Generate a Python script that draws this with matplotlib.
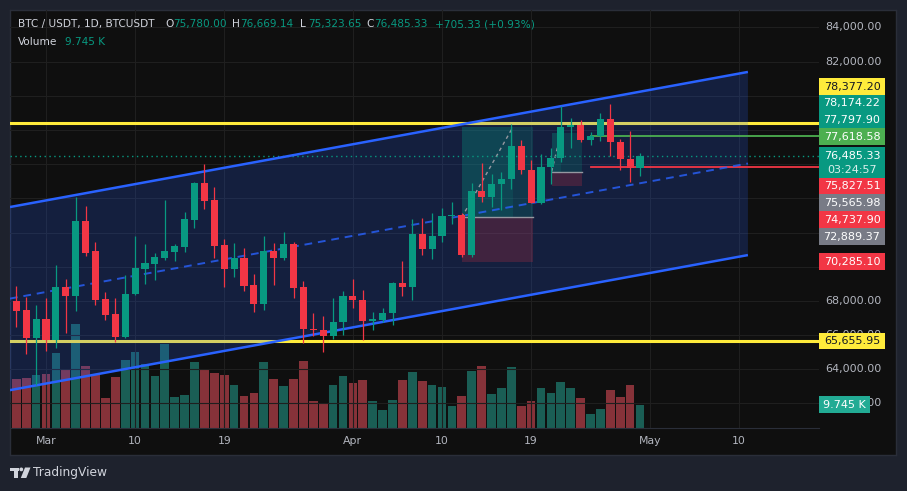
import matplotlib
matplotlib.use('Agg')
import matplotlib.pyplot as plt
from matplotlib.patches import Rectangle, Polygon, Circle
import pandas as pd

W, H = 907, 491

# ---------------- data ----------------
dates = pd.date_range('2025-02-26', periods=64, freq='D')
opens = [67990, 67470, 65850, 66940, 65710, 68810, 68300, 72670, 70920, 68110,
         67230, 65900, 68390, 69890, 70180, 70530, 70880, 71170, 72750, 74900,
         73880, 71260, 69880, 70530, 68910, 67840, 70920, 70530, 71330, 68790,
         66380, 66300, 65950, 66750, 68290, 68080, 66820, 66900, 67270, 69050,
         68830, 71910, 71030, 71790, 72950, 73020, 70680, 74430, 74080, 74830,
         75130, 77060, 75680, 73720, 75810, 76350, 78160, 78290, 77410, 77630,
         78640, 77310, 76320, 75780.00]
highs = [68870, 68240, 67760, 68190, 70100, 69280, 74080, 73550, 71440, 68520,
         68170, 69510, 71800, 71330, 70800, 73900, 71330, 73200, 74950, 76000,
         74660, 71620, 71390, 71090, 69570, 71800, 71390, 72030, 71440, 69160,
         67290, 67120, 68170, 68580, 69280, 68640, 67350, 67580, 69110, 70330,
         72790, 72850, 73140, 73430, 73780, 73140, 74900, 76060, 75420, 75540,
         78340, 77410, 76240, 76590, 76940, 79400, 78700, 78580, 77880, 78990,
         79520, 77470, 77940, 76669.14]
lows = [66490, 64890, 63080, 65090, 65260, 66140, 67430, 70640, 67780, 66900,
        65610, 65850, 68330, 69000, 69240, 70410, 70350, 70880, 72280, 73390,
        70530, 68830, 69410, 68600, 67370, 67490, 68950, 70410, 68190, 65550,
        65960, 65030, 65770, 66000, 67600, 65710, 66300, 66770, 66610, 68300,
        68050, 70700, 70450, 71440, 72500, 70580, 70580, 73780, 73490, 73320,
        74540, 75420, 73700, 73680, 74840, 76120, 76940, 77290, 77120, 77350,
        76470, 75650, 74950, 75323.65]
closes = [67430, 65850, 66940, 65710, 68810, 68300, 72670, 70820, 68070, 67190,
          65900, 68400, 69940, 70220, 70570, 70920, 71210, 72790, 74900, 73860,
          71230, 69880, 70530, 68890, 67840, 70920, 70530, 71330, 68770, 66350,
          66300, 65950, 66770, 68290, 68050, 66820, 66940, 67290, 69050, 68830,
          71910, 71030, 71800, 72960, 73020, 70680, 74430, 74080, 74840, 75130,
          77060, 75650, 73720, 75830, 76360, 78170, 78290, 77410, 77640, 78640,
          77290, 76300, 75780, 76485.33]
volumes = [20.6, 21.0, 22.3, 22.7, 31.5, 24.8, 43.6, 26.0, 22.3, 12.7,
           21.4, 28.5, 31.9, 26.9, 21.9, 35.2, 13.1, 13.9, 27.7, 24.4,
           23.1, 22.3, 18.1, 13.5, 14.8, 27.7, 20.6, 17.7, 20.6, 28.1,
           11.4, 10.2, 18.1, 21.9, 18.9, 20.2, 11.4, 7.6, 11.8, 20.2,
           23.5, 19.8, 18.1, 17.3, 9.3, 13.5, 24.0, 26.0, 14.3, 16.8,
           25.6, 9.3, 11.4, 16.8, 14.8, 19.4, 16.8, 12.7, 6.0, 8.1,
           16.0, 13.1, 18.1, 9.745]  # thousands

tick_dates = ['2025-03-01', '2025-03-10', '2025-03-19', '2025-04-01',
              '2025-04-10', '2025-04-19', '2025-05-01', '2025-05-10']
tick_labels = ['Mar', '10', '19', 'Apr', '10', '19', 'May', '10']
price_ticks = [84000, 82000, 68000, 66000, 64000, 62000]

resistance = 78377.20
support = 65655.95
level_green = 77618.58
level_red = 75827.51
level_start_day = 55

# parallel channel (day offset from Mar 1, upper, lower)
channel_days = [-3.64, 70.9]
channel_upper = [73490, 81390]
channel_lower = [62780, 70680]

# long-position tools
positions = [
    dict(start=42.0, end=49.15, entry=72889.37, target=78174.22, stop=70285.10, exit=47.17),
    dict(start=51.08, end=54.14, entry=75565.98, target=77797.90, stop=74737.90, exit=52.0),
]
countdown = '03:24:57'

# ---------------- colours ----------------
OUTER = '#1e222d'
INNER = '#0f0f0f'
GREEN = '#089981'
RED = '#f23645'
VGREEN = '#1a5e55'
VRED = '#863239'
BLUE = '#2962ff'
YEL = '#ffeb3b'
GRAY_TXT = '#b2b5be'
GRID = '#1f1f1f'

base = pd.Timestamp('2025-03-01')
days = [(d - base).days for d in dates]
tdays = [(pd.Timestamp(t) - base).days for t in tick_dates]

fig = plt.figure(figsize=(W / 100, H / 100), dpi=100, facecolor=OUTER)

# frame background
ax_bg = fig.add_axes([10 / W, (H - 455) / H, 886 / W, 445 / H])
ax_bg.set_facecolor(INNER)
ax_bg.set_xticks([]); ax_bg.set_yticks([])
for s in ax_bg.spines.values():
    s.set_color('#2a2e39'); s.set_linewidth(1)
ax_bg.set_zorder(0)

rect_main = [10 / W, (H - 428) / H, 809 / W, 418 / H]
ax = fig.add_axes(rect_main)
ax_v = ax.twinx()
ax.set_zorder(2); ax_v.set_zorder(1)
ax.patch.set_visible(False); ax_v.patch.set_visible(False)

XL = (-3.636, 78.08)
YL = (60567, 85012)
ax.set_xlim(*XL); ax.set_ylim(*YL)
ax_v.set_ylim(0, 174.8)
for a in (ax, ax_v):
    a.set_xticks([]); a.set_yticks([])
    for s in a.spines.values():
        s.set_visible(False)
ax.spines['bottom'].set_visible(True)
ax.spines['bottom'].set_color('#2a2e39')

# grid
for p in range(62000, 86000, 2000):
    ax.axhline(p, color=GRID, lw=0.8, zorder=0)
for t in tdays:
    ax.axvline(t, color=GRID, lw=0.8, zorder=0)

# volume
vcol = [(VGREEN if c >= o else VRED) for o, c in zip(opens, closes)]
ax_v.bar(days, volumes, width=0.88, color=vcol, linewidth=0)

# horizontal levels
ax.axhline(resistance, color=YEL, lw=2.2, zorder=2)
ax.axhline(support, color=YEL, lw=2.2, zorder=2)

# channel
chan = Polygon([(channel_days[0], channel_upper[0]), (channel_days[1], channel_upper[1]),
                (channel_days[1], channel_lower[1]), (channel_days[0], channel_lower[0])],
               closed=True, facecolor=BLUE, alpha=0.2, edgecolor='none', zorder=3)
ax.add_patch(chan)
ax.plot(channel_days, channel_upper, color=BLUE, lw=1.8, zorder=5, solid_capstyle='butt')
ax.plot(channel_days, channel_lower, color=BLUE, lw=1.8, zorder=5, solid_capstyle='butt')
mid = [(u + l) / 2 for u, l in zip(channel_upper, channel_lower)]
ax.plot(channel_days, mid, color=BLUE, lw=1.4, alpha=0.8, ls=(0, (4, 3)), zorder=5)

# position tools
for ps in positions:
    w = ps['end'] - ps['start']
    ax.add_patch(Rectangle((ps['start'], ps['entry']), w, ps['target'] - ps['entry'],
                           facecolor=GREEN, alpha=0.2, edgecolor='none', zorder=4))
    ax.add_patch(Rectangle((ps['start'], ps['stop']), w, ps['entry'] - ps['stop'],
                           facecolor=RED, alpha=0.2, edgecolor='none', zorder=4))
    ax.add_patch(Rectangle((ps['start'], ps['entry']), ps['exit'] - ps['start'],
                           ps['target'] - ps['entry'],
                           facecolor=GREEN, alpha=0.15, edgecolor='none', zorder=4))
    ax.plot([ps['start'], ps['end']], [ps['entry'], ps['entry']], color='#9598a1', lw=1.0, zorder=4.2)
    ax.plot([ps['start'], ps['exit']], [ps['entry'], ps['target']], color='#9598a1', lw=1.0,
            ls=(0, (2.5, 2.5)), zorder=4.2)

# current price dotted line and levels
ax.axhline(closes[-1], color=GREEN, lw=1.0, ls=(0, (1, 2.5)), zorder=4.5)
ax.plot([level_start_day, XL[1]], [level_green, level_green], color='#4caf50', lw=1.3, zorder=4.5)
ax.plot([level_start_day, XL[1]], [level_red, level_red], color=RED, lw=1.3, zorder=4.5)

# candles
for d, o, h, l, c in zip(days, opens, highs, lows, closes):
    col = GREEN if c >= o else RED
    ax.plot([d, d], [l, h], color=col, lw=0.9, zorder=6, solid_capstyle='butt')
    body = max(abs(c - o), 70)
    ax.add_patch(Rectangle((d - 0.36, min(o, c)), 0.72, body, facecolor=col,
                           edgecolor='none', zorder=6.5))

# ---------------- overlay (pixel coordinates, origin top-left) ----------------
ax_o = fig.add_axes([0, 0, 1, 1])
ax_o.set_xlim(0, W); ax_o.set_ylim(H, 0)
ax_o.axis('off')
ax_o.patch.set_visible(False)
ax_o.set_zorder(5)


def p2y(p):
    return H - ax.transData.transform((0, p))[1]


def d2x(d):
    return ax.transData.transform((d, YL[0]))[0]


def v2y(v):
    return H - ax_v.transData.transform((0, v))[1]


FS = 8
# price tick labels (partly covered by the price labels, as in TradingView)
for p in price_ticks:
    ax_o.text(853, p2y(p), f'{p:,.2f}', ha='center', va='center', color=GRAY_TXT, fontsize=FS, zorder=1)

# time axis labels
for t, lab in zip(tdays, tick_labels):
    ax_o.text(d2x(t), 441.5, lab, ha='center', va='center', color=GRAY_TXT, fontsize=7.8)

# price labels with stacking
LX, LW, LH = 819, 66, 16.7


def draw_label(top, price, bg, fg, h=LH):
    ax_o.add_patch(Rectangle((LX, top), LW, h, facecolor=bg, edgecolor='none', zorder=3))
    ax_o.text(LX + LW / 2, top + LH / 2 + 0.3, f'{price:,.2f}', ha='center', va='center',
              color=fg, fontsize=FS, zorder=4)


cur = closes[-1]
labels = [(resistance, YEL, '#131722'),
          (positions[0]['target'], GREEN, 'white'),
          (positions[1]['target'], GREEN, 'white'),
          (level_green, '#4caf50', 'white'),
          (level_red, RED, 'white'),
          (positions[1]['entry'], '#787b86', 'white'),
          (positions[1]['stop'], RED, 'white'),
          (positions[0]['entry'], '#787b86', 'white'),
          (positions[0]['stop'], RED, 'white'),
          (support, YEL, '#131722')]
cur_top = p2y(cur) - LH / 2
cur_h = 30.3
draw_label(cur_top, cur, GREEN, 'white', h=cur_h)
ax_o.text(LX + LW / 2, cur_top + LH / 2 + 14.2, countdown, ha='center', va='center',
          color='white', alpha=0.85, fontsize=FS, zorder=4)

limit = cur_top
for pr, bg, fg in sorted([l for l in labels if l[0] > cur], key=lambda l: l[0]):
    bot = min(p2y(pr) + LH / 2, limit)
    draw_label(bot - LH, pr, bg, fg)
    limit = bot - LH
limit = cur_top + cur_h
for pr, bg, fg in sorted([l for l in labels if l[0] < cur], key=lambda l: -l[0]):
    top = max(p2y(pr) - LH / 2, limit)
    draw_label(top, pr, bg, fg)
    limit = top + LH

# volume label
vy = v2y(volumes[-1])
ax_o.add_patch(Rectangle((LX, vy - LH / 2), 51, LH, facecolor='#22ab94', edgecolor='none', zorder=3))
ax_o.text(LX + 25.5, vy + 0.3, f'{volumes[-1]:.3f} K', ha='center', va='center', color='white',
          fontsize=FS, zorder=4)

# header
HF = 7.6
ax_o.text(18, 24, 'BTC / USDT, 1D, BTCUSDT', ha='left', va='center', color='#d1d4dc', fontsize=HF)
chg = closes[-1] - closes[-2]
pct = chg / closes[-2] * 100
hdr = [(165, 'O', opens[-1]), (232, 'H', highs[-1]), (300, 'L', lows[-1]), (366, 'C', closes[-1])]
for x, k, v in hdr:
    ax_o.text(x, 24, k, ha='left', va='center', color='#d1d4dc', fontsize=HF)
    ax_o.text(x + 8, 24, f'{v:,.2f}', ha='left', va='center', color=GREEN, fontsize=HF)
ax_o.text(435, 24, f'{chg:+,.2f} ({pct:+.2f}%)', ha='left', va='center', color=GREEN, fontsize=HF)
ax_o.text(18, 42, 'Volume', ha='left', va='center', color='#d1d4dc', fontsize=HF)
ax_o.text(65, 42, f'{volumes[-1]:.3f} K', ha='left', va='center', color=GREEN, fontsize=HF)

# TradingView logo
LOGO = '#d1d4dc'
ax_o.add_patch(Rectangle((10, 467.5), 9, 3.3, facecolor=LOGO, edgecolor='none'))
ax_o.add_patch(Rectangle((14, 467.5), 4, 10.5, facecolor=LOGO, edgecolor='none'))
ax_o.add_patch(Circle((21.3, 469.4), 1.9, facecolor=LOGO, edgecolor='none'))
ax_o.add_patch(Polygon([(25, 467.5), (30.5, 467.5), (26.3, 478), (20.8, 478)], closed=True,
                       facecolor=LOGO, edgecolor='none'))
ax_o.text(33, 472.8, 'TradingView', ha='left', va='center', color=LOGO, fontsize=8.8)

fig.savefig('out.png', dpi=100, facecolor=OUTER)
